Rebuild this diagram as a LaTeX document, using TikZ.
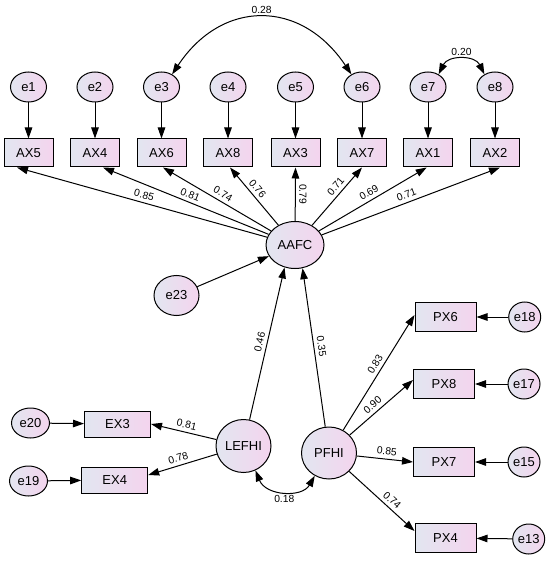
\documentclass[tikz,border=0pt]{standalone}
\usepackage{fontspec}
\setmainfont{Liberation Sans}
\usetikzlibrary{shapes.geometric,arrows.meta,calc}
\definecolor{cl}{RGB}{226,230,240}
\definecolor{cr}{RGB}{244,212,238}
\begin{document}
\begin{tikzpicture}[x=1pt,y=-1pt,
  lat/.style={ellipse,draw,line width=1pt,left color=cl,right color=cr,inner sep=0pt,font=\fontsize{13}{13}\selectfont},
  obs/.style={rectangle,draw,line width=1pt,left color=cl,right color=cr,inner sep=0pt,minimum width=49pt,minimum height=28pt,font=\fontsize{13}{13}\selectfont},
  err/.style={lat,minimum width=36pt,minimum height=30pt},
  conn/.style={line width=1pt,-{Triangle[length=11pt,width=7.5pt]}},
  cov/.style={line width=1pt,{Triangle[length=11pt,width=7.5pt]}-{Triangle[length=11pt,width=7.5pt]}},
  lbl/.style={font=\fontsize{10.3}{10.3}\selectfont,inner sep=1pt},
  lab/.style={lbl,sloped,above=2.5pt}
]
\useasboundingbox (0,0) rectangle (550,561);

% error terms, top row
\node[err] (e1) at (28.5,87) {e1};
\node[err] (e2) at (95,87) {e2};
\node[err] (e3) at (161.5,87) {e3};
\node[err] (e4) at (228,87) {e4};
\node[err] (e5) at (295.5,87) {e5};
\node[err] (e6) at (362,87) {e6};
\node[err] (e7) at (428,87) {e7};
\node[err] (e8) at (495,87) {e8};

% AX indicators
\node[obs] (AX5) at (28.5,153) {AX5};
\node[obs] (AX4) at (95,153) {AX4};
\node[obs] (AX6) at (161.5,153) {AX6};
\node[obs] (AX8) at (228,153) {AX8};
\node[obs] (AX3) at (295.5,153) {AX3};
\node[obs] (AX7) at (362,153) {AX7};
\node[obs] (AX1) at (428,153) {AX1};
\node[obs] (AX2) at (495,153) {AX2};

% latent variables
\node[lat,minimum width=58pt,minimum height=47pt] (AAFC) at (295,245) {AAFC};
\node[lat,minimum width=45pt,minimum height=40pt] (e23) at (176.5,295.5) {e23};
\node[lat,minimum width=55pt,minimum height=53pt] (LEFHI) at (243.5,446) {LEFHI};
\node[lat,minimum width=55pt,minimum height=52pt] (PFHI) at (329,453) {PFHI};

% EX indicators
\node[obs,minimum width=66pt,minimum height=26pt] (EX3) at (117.5,424) {EX3};
\node[obs,minimum width=66pt,minimum height=26pt] (EX4) at (114.7,480) {EX4};
\node[err,minimum width=38pt] (e20) at (30.5,423) {e20};
\node[err,minimum width=38pt] (e19) at (28.5,481) {e19};

% PX indicators
\node[obs,minimum width=61pt,minimum height=29pt] (PX6) at (445.5,317) {PX6};
\node[obs,minimum width=61pt,minimum height=29pt] (PX8) at (444,384) {PX8};
\node[obs,minimum width=61pt,minimum height=29pt] (PX7) at (444,462) {PX7};
\node[obs,minimum width=61pt,minimum height=29pt] (PX4) at (445.5,538) {PX4};
\node[err,minimum width=32pt] (e18) at (524.7,317) {e18};
\node[err,minimum width=32pt] (e17) at (524,384) {e17};
\node[err,minimum width=32pt] (e15) at (524,462) {e15};
\node[err,minimum width=32pt] (e13) at (528.7,539) {e13};

% error arrows
\draw[conn] (e1) -- (AX5);
\draw[conn] (e2) -- (AX4);
\draw[conn] (e3) -- (AX6);
\draw[conn] (e4) -- (AX8);
\draw[conn] (e5) -- (AX3);
\draw[conn] (e6) -- (AX7);
\draw[conn] (e7) -- (AX1);
\draw[conn] (e8) -- (AX2);
\draw[conn] (e20) -- (EX3);
\draw[conn] (e19) -- (EX4);
\draw[conn] (e18) -- (PX6);
\draw[conn] (e17) -- (PX8);
\draw[conn] (e15) -- (PX7);
\draw[conn] (e13) -- (PX4);
\draw[conn] (e23) -- (AAFC);

% loadings of AAFC
\draw[conn] (AAFC) -- ($(AX5.south)+(-11.5,0)$) node[lab,pos=.5]{0.85};
\draw[conn] (AAFC) -- ($(AX4.south)+(8,0)$) node[lab,pos=.49]{0.81};
\draw[conn] (AAFC) -- ($(AX6.south)+(1.5,0)$) node[lab,pos=.48]{0.74};
\draw[conn] (AAFC) -- ($(AX8.south)+(2,0)$) node[lab,pos=.55]{0.76};
\draw[conn] (AAFC) -- (AX3.south) node[lbl,pos=.5,rotate=-90,above=2.5pt]{0.79};
\draw[conn] (AAFC) -- (AX7.south) node[lab,pos=.59]{0.71};
\draw[conn] (AAFC) -- ($(AX1.south)+(-1.3,0)$) node[lab,pos=.5]{0.69};
\draw[conn] (AAFC) -- ($(AX2.south)+(5,0)$) node[lab,pos=.49]{0.71};

% structural paths
\draw[conn] (LEFHI) -- (AAFC.-115) node[lab,pos=.5]{0.46};
\draw[conn] (PFHI) -- (AAFC.-72) node[lab,pos=.5]{0.35};

% loadings of LEFHI and PFHI
\draw[conn] (LEFHI) -- (EX3.east) node[lab,pos=.48]{0.81};
\draw[conn] (LEFHI) -- ($(EX4.east)+(0,-5)$) node[lab,pos=.53]{0.78};
\draw[conn] (PFHI) -- ($(PX6.west)+(0,-2)$) node[lab,pos=.54]{0.83};
\draw[conn] (PFHI) -- ($(PX8.west)+(0,-4)$) node[lab,pos=.44]{0.90};
\draw[conn] (PFHI) -- (PX7.west) node[lab,pos=.52]{0.85};
\draw[conn] (PFHI) -- ($(PX4.west)+(0,-7)$) node[lab,pos=.58]{0.74};

% covariances
\draw[cov] (e3.50) .. controls (222,-1) and (301,-1) .. (e6.130) node[lbl,pos=.5,above=2.5pt]{0.28};
\draw[cov] (e7.50) .. controls (448,55) and (475,55) .. (e8.130) node[lbl,pos=.5,above=2.5pt]{0.20};
\draw[cov] (LEFHI.-64) .. controls (266,496) and (302,498) .. (PFHI.-122) node[lbl,pos=.5,below=2.5pt]{0.18};
\end{tikzpicture}
\end{document}
